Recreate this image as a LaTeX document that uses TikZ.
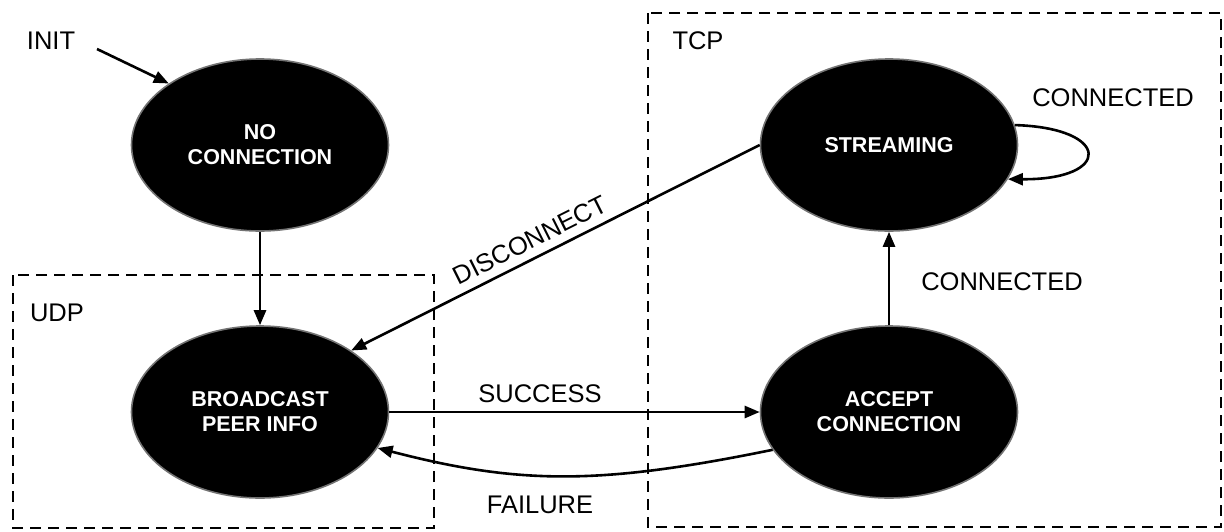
\documentclass[tikz,border=0pt]{standalone}
\usepackage{fontspec}
\setmainfont{Liberation Sans}
\usetikzlibrary{arrows.meta,shapes.geometric}

\begin{document}
\begin{tikzpicture}[x=1pt,y=-1pt,
  state/.style={ellipse, fill=black, draw=black!55, line width=1.6pt,
    minimum width=257pt, minimum height=172pt, inner sep=0pt,
    align=center, text=white, font=\fontsize{21.5}{25}\selectfont\bfseries},
  lbl/.style={font=\fontsize{25.5}{30}\selectfont, inner sep=0pt},
  edge/.style={line width=2.6pt, -{Triangle[length=15pt,width=12pt]}},
  zone/.style={draw, line width=2.6pt, dash pattern=on 11pt off 7pt}]
\useasboundingbox (0,0) rectangle (1224,531);

% protocol regions
\draw[zone] (13,275) rectangle (434,528);
\draw[zone] (648,13) rectangle (1221,527);
\node[lbl] (udp) at (57,313) {UDP};
\node[lbl] (tcp) at (698,41) {TCP};

% states
\node[state] (nc) at (260,145) {NO\\CONNECTION};
\node[state] (bc) at (260,412) {BROADCAST\\PEER INFO};
\node[state] (st) at (889,145) {STREAMING};
\node[state] (ac) at (889,412) {ACCEPT\\CONNECTION};

% initial transition
\node[lbl] (init) at (51,41) {INIT};
\coordinate (initstart) at (97,49);
\draw[edge] (initstart) -- (nc.146);

% transitions
\draw[edge] (nc) -- (bc);
\draw[edge] (st.west) -- (bc.34);
\draw[edge] (bc) -- (ac);
\draw[edge] (ac.198) .. controls (600,485) and (520,485) .. (bc.343);
\draw[edge] (ac) -- (st);
\draw[edge] (st.9) .. controls (1112,128) and (1112,180) .. (st.-16);

% transition labels
\node[lbl, rotate=26.6] (ldisc) at (530,240) {DISCONNECT};
\node[lbl] (lsucc) at (540,394) {SUCCESS};
\node[lbl] (lfail) at (540,505) {FAILURE};
\node[lbl] (lconn) at (1002,282) {CONNECTED};
\node[lbl] (lloop) at (1113,98) {CONNECTED};
\end{tikzpicture}
\end{document}
